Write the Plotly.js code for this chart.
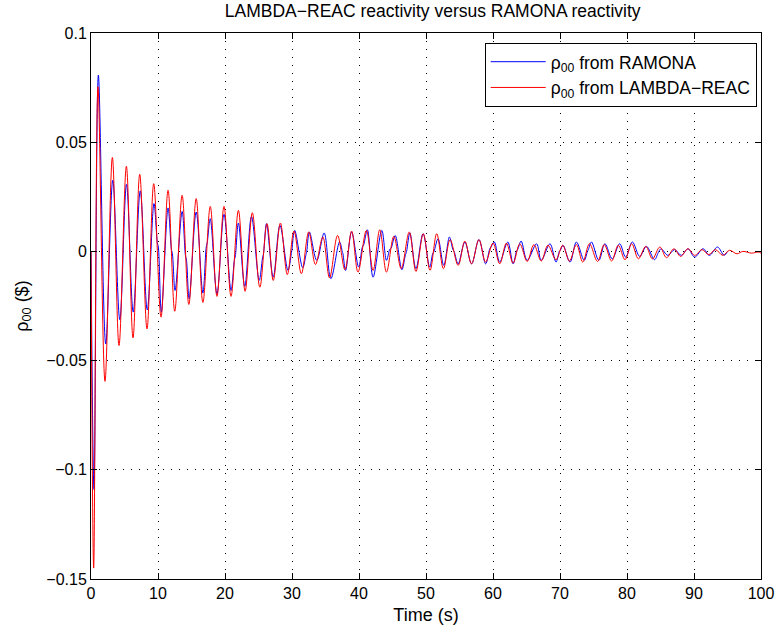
<!DOCTYPE html>
<html>
<head>
<meta charset="utf-8">
<script src="https://cdn.plot.ly/plotly-3.0.1.min.js"></script>
<style>html,body{margin:0;padding:0;background:#fff;}#chart{width:775px;height:630px;}</style>
</head>
<body>
<div id="chart"></div>
<script>
// RAMONA reactivity (blue)
const blueT = [0,0.45,1.1,2.2, 3.25,4.3,5.3,6.3, 7.35,8.4,9.4,9.9,10.05,10.5, 11.5,12.0,12.15,12.55, 13.6,14.1,14.25,14.65,
  15.7,16.7,17.2,17.35,17.8, 18.8,19.85,20.9,21.4,21.55,22.0, 22.95,23.95,25.1,25.6,25.75,26.2, 27.2,28.2,29.4,29.9,30.0,30.4,
  31.6,32.05,32.2,32.6, 33.7,34.8,35.8,37.1,37.5,37.6,38.0, 38.9,39.95,40.5,40.7,41.25, 42.1,43.4,44.1,44.6,44.8,45.4,
  46.4,46.9,47.1,47.6, 48.5,49.56,50.55,51.0,51.2,51.8, 52.65,53.5,54.0,54.2,54.8, 55.8,56.8,57.9,58.9,59.5,59.7,60.2,
  61.0,62.2,63.0,63.5,63.7,64.2, 65.1,66.5,67.2,68.5, 69.4,69.9,70.05,70.45, 71.5,72.45,73.6,74.1,74.25,74.7,
  75.8,76.7,77.8,78.9, 79.8,80.8,81.9,82.9, 84.1,84.6,84.75,85.1, 86.1,87.1,88.1,89.1, 90.1,91.35,92.3,93.5, 94.5,95.0];
const blueV = [0,-0.109,0.0807,-0.0424, 0.0326,-0.0313,0.0307,-0.0278, 0.0277,-0.0268,0.0219,0.004,0.002,-0.0278, 0.0199,0.001,-0.001,-0.0179, 0.0183,-0.002,-0.004,-0.0217,
  0.018,-0.0191,0.002,0.004,0.015, -0.0194,0.017,-0.0179,-0.004,-0.002,0.013, -0.016,0.016,-0.0133,-0.003,-0.001,0.0127, -0.0118,0.0119,-0.0087,-0.001,0.001,0.0096,
  -0.0075,-0.002,0.0,0.0089, -0.0041,0.0084,-0.0125,0.0043,0.0,-0.001,-0.0087, 0.0089,-0.0072,0.002,0.003,0.0099, -0.0118,0.0096,-0.0041,0.001,0.0015,0.0073,
  -0.0084,-0.002,0.0,0.0084, -0.0079,0.0081,-0.0072,-0.001,0.0,0.0058, -0.0064,0.0066,0.001,0.0,-0.0057, 0.0043,-0.0057,0.0054,-0.0057,0.001,0.002,0.0043,
  -0.0049,0.0043,-0.0057,0.0,0.001,0.0047, -0.0041,0.0035,-0.0041,0.0035, -0.0049,0.0,0.0005,0.0028, -0.0049,0.0043,-0.0041,0.0,0.001,0.0043,
  -0.0041,0.0035,-0.0034,0.0035, -0.0026,0.0043,-0.0023,0.0023, -0.0038,-0.001,0.0,0.0012, -0.0018,0.0008,-0.0018,0.0012, -0.0026,0.0012,-0.0018,0.002, -0.0018,0.0];

// LAMBDA-REAC reactivity (red)
const redT = [0,0.4,1.04,2.09, 3.19,4.18,5.28,6.27, 7.27,8.36,9.36,10.45, 11.5,12.5,13.6,14.6, 15.7,16.7,17.8,18.8,
  19.85,20.9,22.0,23.0, 24.08,25.2,26.27,27.2, 28.27,29.3,30.3,31.4, 32.5,33.5,34.6,35.6, 36.8,37.9,38.9,39.85,
  41.1,42.1,43.1,44.1, 45.2,46.3,47.5,48.5, 49.6,50.6,51.6,52.6, 53.6,54.8,55.8,56.8, 57.9,58.9,60.0,61.0,
  62.0,63.0,64.0,65.1, 66.1,67.2,68.2,69.4, 70.4,71.4,72.45,73.4, 74.4,75.6,76.6,77.7, 78.7,79.7,80.7,81.7,
  82.8,83.8,84.9,85.9, 87.0,88.0,89.1,90.1, 91.2,92.2,93.2,94.3, 95.3,96.4,97.3,98.6, 99.6,100];
const redV = [0,-0.145,0.0754,-0.0595, 0.043,-0.0431,0.039,-0.0396, 0.0353,-0.0355,0.031,-0.0301, 0.028,-0.0274,0.0257,-0.0243,
  0.0242,-0.0234,0.0206,-0.0206, 0.0206,-0.0206,0.0188,-0.0183, 0.0177,-0.0164,0.0127,-0.0133, 0.013,-0.0106,0.0093,-0.0102,
  0.0089,-0.006,0.0066,-0.0121, 0.0073,-0.0084,0.0093,-0.0095, 0.0096,-0.0087,0.0099,-0.0095, 0.0069,-0.0079,0.0089,-0.0092,
  0.0081,-0.0087,0.0081,-0.0079, 0.0054,-0.0064,0.0047,-0.0057, 0.0054,-0.0049,0.0038,-0.0057, 0.0038,-0.0054,0.0035,-0.0046,
  0.0031,-0.0044,0.0028,-0.0038, 0.0028,-0.0044,0.0031,-0.0049, 0.0035,-0.0046,0.0031,-0.0044, 0.0028,-0.0038,0.0035,-0.0034,
  0.0023,-0.0034,0.002,-0.0029, 0.0012,-0.0023,0.0012,-0.0018, 0.0008,-0.0015,0.0008,-0.0018, 0.0005,-0.0011,0.0,-0.0008,
  -0.0003,-0.0008];

const xTicks = [0,10,20,30,40,50,60,70,80,90,100];
const yTicks = [-0.15,-0.1,-0.05,0,0.05,0.1];
const yTickText = ['\u22120.15','\u22120.1','\u22120.05','0','0.05','0.1'];
const seriesNames = ['\u03c1<sub>00</sub> from RAMONA','\u03c1<sub>00</sub> from LAMBDA\u2212REAC'];

const FONT = '"Liberation Sans", Arial, Helvetica, sans-serif';

const traces = [
  {x: blueT, y: blueV, type: 'scatter', mode: 'lines', name: seriesNames[0],
   line: {color: '#0000ff', width: 1, shape: 'spline', smoothing: 1}},
  {x: redT, y: redV, type: 'scatter', mode: 'lines', name: seriesNames[1],
   line: {color: '#ff0000', width: 1, shape: 'spline', smoothing: 1}}
];

const axisCommon = {
  showline: true, linecolor: '#000', linewidth: 1, mirror: 'ticks',
  ticks: 'inside', ticklen: 6, tickwidth: 1, tickcolor: '#000',
  showgrid: true, gridcolor: '#000', gridwidth: 1, griddash: '1px,7px',
  zeroline: false, tickfont: {family: FONT, size: 16, color: '#000'}
};

const layout = {
  width: 775, height: 630,
  margin: {l: 91, r: 14, t: 33, b: 51},
  paper_bgcolor: '#fff', plot_bgcolor: '#fff',
  font: {family: FONT, size: 16, color: '#000'},
  title: {text: 'LAMBDA\u2212REAC reactivity versus RAMONA reactivity', font: {family: FONT, size: 17.5, color: '#000'},
          xref: 'paper', x: 0.51, xanchor: 'center', yref: 'container', y: 0.983, yanchor: 'middle'},
  xaxis: Object.assign({}, axisCommon, {range: [0, 100], tickvals: xTicks, ticktext: xTicks.map(String),
          title: {text: 'Time (s)', font: {family: FONT, size: 18, color: '#000'}, standoff: 7}}),
  yaxis: Object.assign({}, axisCommon, {range: [-0.15, 0.1], tickvals: yTicks, ticktext: yTickText,
          title: {text: '\u03c1<sub>00</sub> ($)', font: {family: FONT, size: 18, color: '#000'}, standoff: 13}}),
  showlegend: true,
  legend: {x: 0.9936, xanchor: 'right', y: 0.982, yanchor: 'top', bgcolor: '#fff', bordercolor: '#000', borderwidth: 1,
           itemwidth: 55, font: {family: FONT, size: 17.5, color: '#000'}}
};

Plotly.newPlot('chart', traces, layout, {displayModeBar: false, staticPlot: true});
</script>
</body>
</html>
